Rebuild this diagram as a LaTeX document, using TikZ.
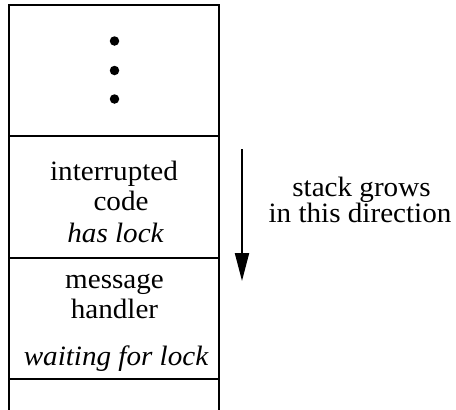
\documentclass[tikz,border=0pt]{standalone}
\usepackage{fontspec}
\setmainfont{Liberation Serif}[FakeStretch=1.04]
\usetikzlibrary{arrows.meta}
\begin{document}
\begin{tikzpicture}[x=1pt,y=-1pt,
  lbl/.style={inner sep=0pt,anchor=base,font=\fontsize{28}{28}\selectfont},
  ilbl/.style={lbl,font=\fontsize{28}{28}\selectfont\itshape},
  frame/.style={line width=2pt},
  dotnode/.style={circle,fill=black,inner sep=0pt,minimum size=9.5pt}]
\useasboundingbox (0,0) rectangle (456,410);
% stack frame
\coordinate (bl) at (9,412);
\coordinate (tl) at (9,5);
\coordinate (tr) at (219,5);
\coordinate (br) at (219,412);
\draw[frame] (bl) -- (tl) -- (tr) -- (br);
\coordinate (d1l) at (9,136); \coordinate (d1r) at (219,136);
\coordinate (d2l) at (9,258); \coordinate (d2r) at (219,258);
\coordinate (d3l) at (9,379); \coordinate (d3r) at (219,379);
\draw[frame] (d1l) -- (d1r);
\draw[frame] (d2l) -- (d2r);
\draw[frame] (d3l) -- (d3r);
% dots
\node[dotnode] (dot1) at (114.5,41) {};
\node[dotnode] (dot2) at (114.5,70.5) {};
\node[dotnode] (dot3) at (114.5,99) {};
% cell texts
\node[lbl] (int) at (114,180) {interrupted};
\node[lbl] (code) at (121,210) {code};
\node[ilbl] (has) at (115.5,242) {has lock};
\node[lbl] (msg) at (114.5,288) {message};
\node[lbl] (hnd) at (114.5,318) {handler};
\node[ilbl] (wait) at (116,365) {waiting for lock};
% arrow
\coordinate (atop) at (242,149);
\coordinate (abot) at (242,281);
\draw[line width=2pt,-{Triangle[length=28pt,width=14pt]}] (atop) -- (abot);
\node[lbl] (sg) at (361.5,196) {stack grows};
\node[lbl] (dir) at (360,222) {in this direction};
\end{tikzpicture}
\end{document}
